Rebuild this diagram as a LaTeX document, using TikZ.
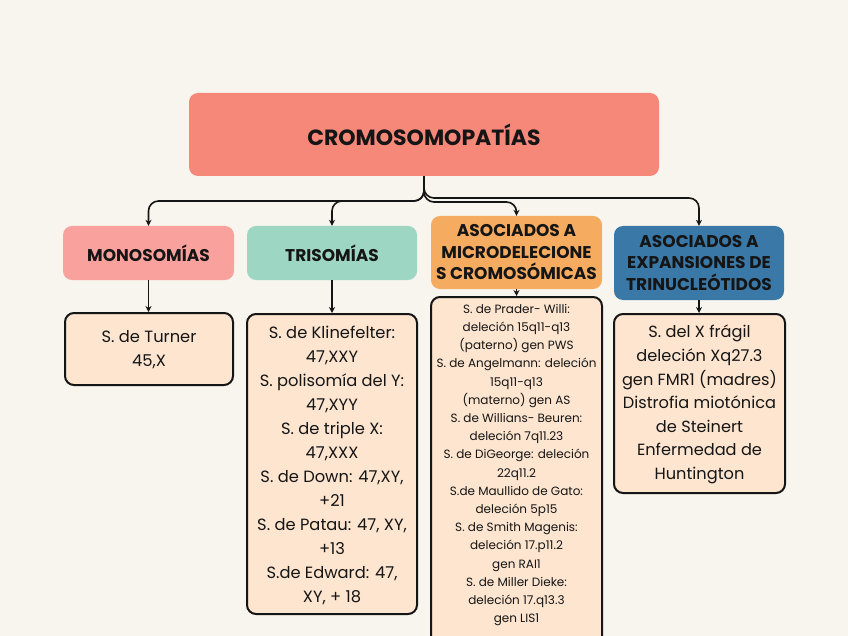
\documentclass[tikz,border=0pt]{standalone}
\usepackage{fontspec}
\setmainfont{Poppins}
\usetikzlibrary{arrows.meta}
\definecolor{bg}{HTML}{F8F5EE}
\definecolor{rootc}{HTML}{F6887A}
\definecolor{monoc}{HTML}{F9A29D}
\definecolor{tric}{HTML}{9DD6C3}
\definecolor{microc}{HTML}{F5AB60}
\definecolor{expc}{HTML}{3A79A7}
\definecolor{peach}{HTML}{FDE5D0}
\definecolor{ink}{HTML}{151515}
\tikzset{
  hdr/.style={rounded corners=9pt, inner sep=0pt, align=center, text=ink,
    font=\fontsize{17}{21.5}\selectfont\bfseries},
  content/.style={draw=ink, line width=2pt, fill=peach, rounded corners=9pt, inner sep=0pt},
  bodytext/.style={align=center, text=ink, inner sep=0pt, font=\fontsize{16.3}{24}\selectfont},
  smalltext/.style={align=center, text=ink, inner sep=0pt, font=\fontsize{12}{18.2}\selectfont},
  conn/.style={draw=ink, line width=1.6pt, rounded corners=10pt, -{Stealth[length=6pt,width=6pt]}}
}
\begin{document}
\begin{tikzpicture}[x=1pt,y=-1pt]
\useasboundingbox[fill=bg] (0,0) rectangle (848,636);

% root
\node[hdr, fill=rootc, minimum width=470pt, minimum height=83pt,
  font=\fontsize{22}{26}\selectfont\bfseries] (root) at (424,134.5) {CROMOSOMOPATÍAS};

% headers
\node[hdr, fill=monoc, minimum width=171pt, minimum height=54pt] (mono) at (148.5,253) {MONOSOMÍAS};
\node[hdr, fill=tric, minimum width=170pt, minimum height=54pt] (tri) at (332,253) {TRISOMÍAS};
\node[hdr, fill=microc, minimum width=171pt, minimum height=73pt] (micro) at (516.5,252.5)
  {ASOCIADOS A\\MICRODELECIONE\\S CROMOSÓMICAS};
\node[hdr, fill=expc, minimum width=170pt, minimum height=74pt] (exp) at (699,263)
  {ASOCIADOS A\\EXPANSIONES DE\\TRINUCLEÓTIDOS};

% content boxes
\node[content, minimum width=168pt, minimum height=72pt] (turner) at (149,349) {};
\node[bodytext] (turnertext) at (149,350) {S. de Turner\\45,X};

\node[content, minimum width=170pt, minimum height=300pt] (tric) at (332,464) {};
\node[bodytext] (tritext) at (332,465.5) {S. de Klinefelter:\\47,XXY\\S. polisomía del Y:\\47,XYY\\S. de triple X:\\47,XXX\\S. de Down: 47,XY,\\+21\\S. de Patau: 47, XY,\\+13\\S.de Edward: 47,\\XY, + 18};

\node[content, minimum width=171pt, minimum height=356pt, anchor=north] (microbox) at (516.5,296) {};
\node[smalltext] (microtext) at (516.5,465) {S. de Prader- Willi:\\deleción 15q11-q13\\(paterno) gen PWS\\S. de Angelmann: deleción\\15q11-q13\\(materno) gen AS\\S. de Willians- Beuren:\\deleción 7q11.23\\S. de DiGeorge: deleción\\22q11.2\\S.de Maullido de Gato:\\deleción 5p15\\S. de Smith Magenis:\\deleción 17.p11.2\\gen RAI1\\S. de Miller Dieke:\\deleción 17.q13.3\\gen LIS1};

\node[content, minimum width=171pt, minimum height=179pt] (expbox) at (699.5,403.5) {};
\node[bodytext, font=\fontsize{16.2}{23.6}\selectfont] (exptext) at (699.5,404.5) {S. del X frágil\\deleción Xq27.3\\gen FMR1 (madres)\\Distrofia miotónica\\de Steinert\\Enfermedad de\\Huntington};

% connectors from root
\draw[conn] (root.south) -- (424,201) -- (148.5,201) -- (mono.north);
\draw[conn] (root.south) -- (424,201) -- (332,201) -- (tri.north);
\draw[conn] (root.south) -- (424,202) -- (516.5,202) -- (micro.north);
\draw[conn] (root.south) -- (424,198) -- (699,198) -- (exp.north);

% headers to contents
\draw[conn] (mono.south) -- (mono.south |- turner.north);
\draw[conn] (tri.south) -- (tri.south |- tric.north);
\draw[conn] (micro.south) -- (micro.south |- microbox.north);
\draw[conn] (exp.south) -- (exp.south |- expbox.north);
\end{tikzpicture}
\end{document}
